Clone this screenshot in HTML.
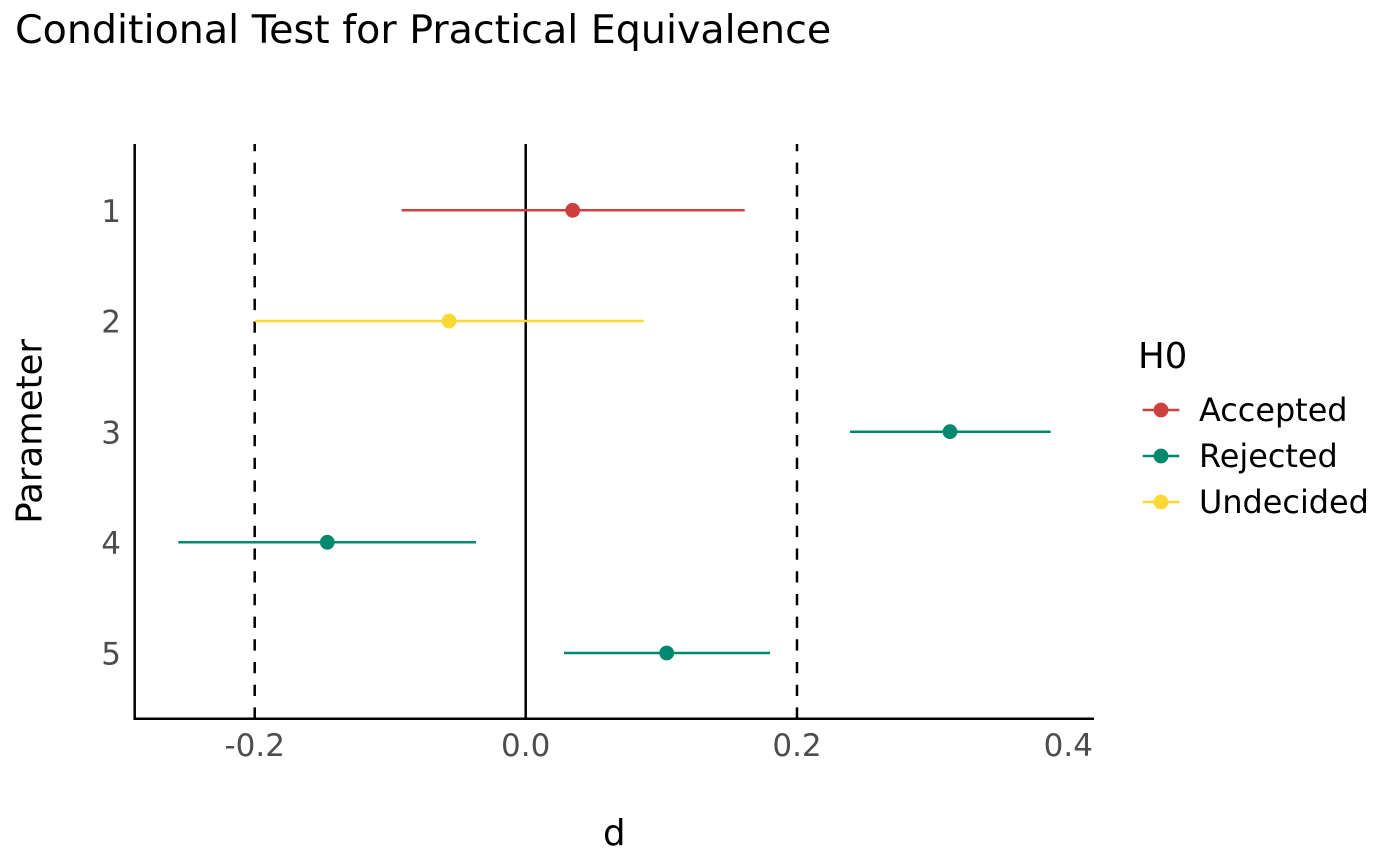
<!DOCTYPE html>
<html>
<head>
<meta charset="utf-8">
<style>
  html, body { margin: 0; padding: 0; background: #ffffff; }
  svg { display: block; }
  text { font-family: "DejaVu Sans", "Liberation Sans", sans-serif; }
</style>
</head>
<body>
<svg width="1400" height="866" viewBox="0 0 1400 866" xmlns="http://www.w3.org/2000/svg">
  <rect x="0" y="0" width="1400" height="866" fill="#ffffff"/>

  <!-- Title -->
  <text x="15" y="43" font-size="39.6" fill="#000000">Conditional Test for Practical Equivalence</text>

  <!-- Dashed reference lines -->
  <line x1="254.7" y1="718.7" x2="254.7" y2="144" stroke="#000000" stroke-width="2.5" stroke-dasharray="11.3 11.4"/>
  <line x1="797" y1="718.7" x2="797" y2="144" stroke="#000000" stroke-width="2.5" stroke-dasharray="11.3 11.4"/>

  <!-- Zero line -->
  <line x1="525.7" y1="144" x2="525.7" y2="718.7" stroke="#000000" stroke-width="2.5"/>

  <!-- Axes -->
  <line x1="134.7" y1="144" x2="134.7" y2="719.9" stroke="#000000" stroke-width="2.5"/>
  <line x1="133.5" y1="718.7" x2="1094" y2="718.7" stroke="#000000" stroke-width="2.5"/>

  <!-- Series -->
  <!-- 1: Accepted -->
  <line x1="401.7" y1="210.3" x2="744.7" y2="210.3" stroke="#cd403d" stroke-width="2.5"/>
  <circle cx="572.7" cy="210.3" r="7.4" fill="#cd403d"/>
  <!-- 2: Undecided -->
  <line x1="255" y1="321" x2="643.7" y2="321" stroke="#fdd835" stroke-width="2.5"/>
  <circle cx="449" cy="321" r="7.4" fill="#fdd835"/>
  <!-- 3: Rejected -->
  <line x1="850" y1="431.7" x2="1050.7" y2="431.7" stroke="#00896f" stroke-width="2.5"/>
  <circle cx="950" cy="431.7" r="7.4" fill="#00896f"/>
  <!-- 4: Rejected -->
  <line x1="178.3" y1="542.3" x2="476" y2="542.3" stroke="#00896f" stroke-width="2.5"/>
  <circle cx="327.3" cy="542.3" r="7.4" fill="#00896f"/>
  <!-- 5: Rejected -->
  <line x1="564" y1="653" x2="770" y2="653" stroke="#00896f" stroke-width="2.5"/>
  <circle cx="666.7" cy="653" r="7.4" fill="#00896f"/>

  <!-- Y tick labels -->
  <g font-size="31" fill="#4d4d4d" text-anchor="end">
    <text x="121" y="222">1</text>
    <text x="121" y="332.7">2</text>
    <text x="121" y="443.4">3</text>
    <text x="121" y="554">4</text>
    <text x="121" y="664.7">5</text>
  </g>

  <!-- X tick labels -->
  <g font-size="31" fill="#4d4d4d" text-anchor="middle">
    <text x="254.7" y="756">-0.2</text>
    <text x="525.7" y="756">0.0</text>
    <text x="797" y="756">0.2</text>
    <text x="1068.3" y="756">0.4</text>
  </g>

  <!-- Axis titles -->
  <text x="614.3" y="845" font-size="35.5" fill="#000000" text-anchor="middle">d</text>
  <text transform="translate(41.5,431.4) rotate(-90)" x="0" y="0" font-size="35.5" fill="#000000" text-anchor="middle">Parameter</text>

  <!-- Legend -->
  <text x="1138" y="368" font-size="35.5" fill="#000000">H0</text>

  <line x1="1142.7" y1="410" x2="1179.3" y2="410" stroke="#cd403d" stroke-width="2.5"/>
  <circle cx="1161" cy="410" r="7.4" fill="#cd403d"/>
  <text x="1199" y="421" font-size="31.9" fill="#000000">Accepted</text>

  <line x1="1142.7" y1="456" x2="1179.3" y2="456" stroke="#00896f" stroke-width="2.5"/>
  <circle cx="1161" cy="456" r="7.4" fill="#00896f"/>
  <text x="1199" y="467" font-size="31.9" fill="#000000">Rejected</text>

  <line x1="1142.7" y1="502" x2="1179.3" y2="502" stroke="#fdd835" stroke-width="2.5"/>
  <circle cx="1161" cy="502" r="7.4" fill="#fdd835"/>
  <text x="1199" y="513" font-size="31.9" fill="#000000">Undecided</text>
</svg>
</body>
</html>
